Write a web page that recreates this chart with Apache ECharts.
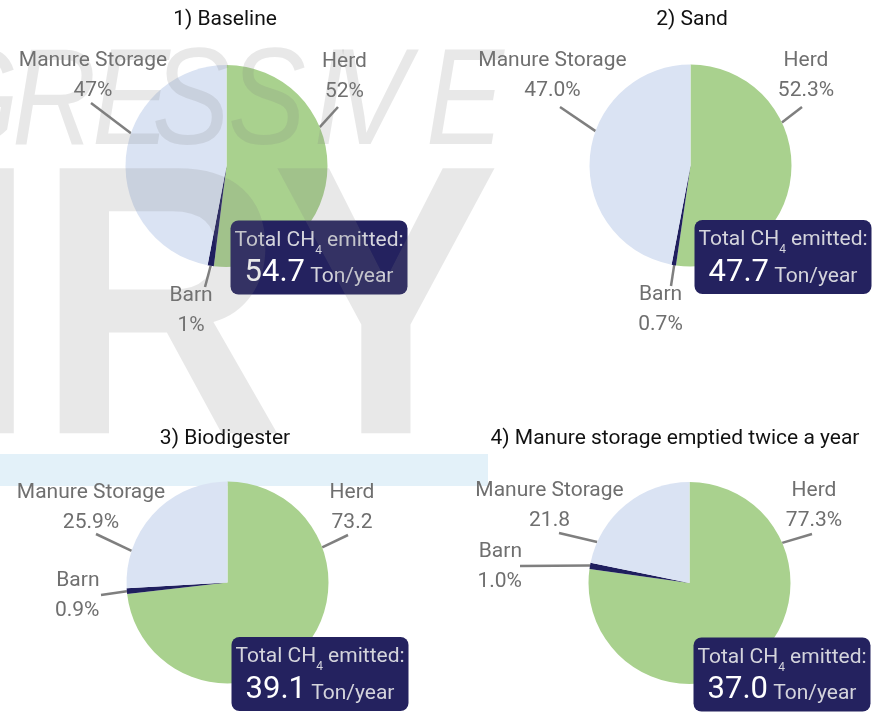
<!DOCTYPE html>
<html>
<head>
<meta charset="utf-8">
<script src="https://cdn.jsdelivr.net/npm/echarts@6/dist/echarts.min.js"></script>
<style>html,body{margin:0;padding:0;background:#fff}#c{width:891px;height:719px}</style>
</head>
<body>
<div id="c"></div>
<script>
// ---- data ----
const categories = ['Herd', 'Barn', 'Manure Storage'];
const baseline = [52, 1, 47];
const sand = [52.3, 0.7, 47.0];
const biodigester = [73.2, 0.9, 25.9];
const emptiedTwice = [77.3, 1.0, 21.8];
const valueLabels = [
  ['52%', '1%', '47%'],
  ['52.3%', '0.7%', '47.0%'],
  ['73.2', '0.9%', '25.9%'],
  ['77.3%', '1.0%', '21.8']
];
const totals = [54.7, 47.7, 39.1, 37.0];
const panelTitles = ['1) Baseline', '2) Sand', '3) Biodigester', '4) Manure storage emptied twice a year'];

// ---- layout / style ----
const seriesData = [baseline, sand, biodigester, emptiedTwice];
const centers = [[226.5, 166], [690.5, 165.5], [227.5, 582.5], [689.5, 583]];
const titlePos = [[225, 9], [692, 9], [225, 428], [675, 428]];
const R = 101;
const colors = ['#a9d18e', '#1f1f5e', '#dae3f3'];
const FONT = 'Roboto, "Liberation Sans", sans-serif';
// label spots per pie per category: a = leader start angle (deg, clockwise from top),
// e = leader end offset from centre, l = label anchor offset, h/v = alignment
const spots = [
  [{a: 67.4, e: [111.5, -59], l: [118, -59], h: 'center', v: 'bottom'},
   {a: 189, e: [-21.5, 121], l: [-35.5, 115], h: 'center', v: 'top'},
   {a: 288.9, e: [-135.5, -63], l: [-133.5, -60], h: 'center', v: 'bottom'}],
  [{a: 64.8, e: [111.5, -58.5], l: [115.5, -59.5], h: 'center', v: 'bottom'},
   {a: 189.3, e: [-19.5, 120.5], l: [-30, 114.5], h: 'center', v: 'top'},
   {a: 289.9, e: [-130.5, -58.5], l: [-138, -59.5], h: 'center', v: 'bottom'}],
  [{a: 69.6, e: [120.5, -47.5], l: [124.5, -44.5], h: 'center', v: 'bottom'},
   {a: 265, e: [-126.5, 12.5], l: [-128, 13], h: 'right', v: 'middle'},
   {a: 288.3, e: [-131.5, -48.5], l: [-136.5, -44.5], h: 'center', v: 'bottom'}],
  [{a: 66.6, e: [122.5, -49], l: [124.5, -47], h: 'center', v: 'bottom'},
   {a: 280, e: [-169.5, -17], l: [-167.5, -16], h: 'right', v: 'middle'},
   {a: 293.9, e: [-130.5, -50], l: [-140, -47], h: 'center', v: 'bottom'}]
];
// watermark letters of the top row (left x of each glyph)
const wmTop = [['G', -72], ['R', 12], ['E', 92], ['S', 152], ['S', 228], ['I', 313], ['V', 332], ['E', 426]];

const chart = echarts.init(document.getElementById('c'), null, {renderer: 'canvas'});

const series = seriesData.map(function (vals, k) {
  return {
    type: 'pie',
    center: centers[k],
    radius: R,
    startAngle: 90,
    clockwise: true,
    silent: true,
    animation: false,
    avoidLabelOverlap: false,
    z: 2,
    data: categories.map(function (name, i) {
      return {name: name, value: vals[i], itemStyle: {color: colors[i]}};
    }),
    label: {
      show: true,
      position: 'outside',
      formatter: function (p) { return p.name + '\n' + valueLabels[k][p.dataIndex]; },
      color: '#6f6f6f',
      fontFamily: FONT,
      fontSize: 21,
      lineHeight: 30
    },
    labelLine: {show: true, length: 10, length2: 0, lineStyle: {color: '#7f7f7f', width: 2.5}},
    labelLayout: function (p) {
      const s = spots[k][p.dataIndex];
      const c = centers[k];
      const t = s.a * Math.PI / 180;
      const sx = c[0] + R * Math.sin(t), sy = c[1] - R * Math.cos(t);
      const ex = c[0] + s.e[0], ey = c[1] + s.e[1];
      return {
        x: c[0] + s.l[0], y: c[1] + s.l[1],
        align: s.h, verticalAlign: s.v,
        labelLinePoints: [[sx, sy], [ex, ey], [ex, ey]]
      };
    },
    emphasis: {disabled: true}
  };
});

const graphics = [];
// light blue band
graphics.push({type: 'rect', z: 0, shape: {x: 0, y: 454, width: 488, height: 32}, style: {fill: '#e3f1f9'}, silent: true});
// total boxes
centers.forEach(function (c, k) {
  const bx = c[0] + 4, by = c[1] + 54.5;
  graphics.push({type: 'rect', z: 50, silent: true,
    shape: {x: bx, y: by, width: 177, height: 74, r: 8},
    style: {fill: '#24225f'}});
  graphics.push({type: 'text', z: 51, silent: true, x: bx + 88.5, y: by + 6,
    style: {
      text: '{a|Total CH}{s|4}{a| emitted:}\n{b|' + totals[k].toFixed(1) + '}{c| Ton/year}',
      align: 'center', verticalAlign: 'top',
      rich: {
        a: {fontFamily: FONT, fontSize: 21, lineHeight: 28, fill: '#d4d4dc'},
        s: {fontFamily: FONT, fontSize: 12, lineHeight: 12, padding: [20, 0, 0, 0], fill: '#d4d4dc'},
        b: {fontFamily: FONT, fontSize: 31, lineHeight: 38, fill: '#ffffff'},
        c: {fontFamily: FONT, fontSize: 21, lineHeight: 31, padding: [7, 0, 0, 0], fill: '#d4d4dc'}
      }
    }});
});
// watermark
const WM = 'rgba(128,128,128,0.18)';
wmTop.forEach(function (w) {
  graphics.push({type: 'text', z: 100, silent: true, x: w[1], y: 106, scaleX: 0.845,
    style: {text: w[0], align: 'left', verticalAlign: 'middle',
      font: 'italic 138px "Liberation Sans", Arial, sans-serif', fill: WM}});
});
graphics.push({type: 'text', z: 100, silent: true, x: 500, y: 327, scaleX: 0.89,
  style: {text: 'DAIRY', align: 'right', verticalAlign: 'middle',
    font: 'bold 385px "Liberation Sans", Arial, sans-serif', fill: WM}});

chart.setOption({
  backgroundColor: '#ffffff',
  animation: false,
  title: panelTitles.map(function (t, k) {
    return {text: t, left: titlePos[k][0], top: titlePos[k][1], textAlign: 'center', padding: 0,
      textStyle: {fontFamily: FONT, fontSize: 21, fontWeight: 'normal', color: '#111111'}};
  }),
  series: series,
  graphic: {elements: graphics}
});
</script>
</body>
</html>
